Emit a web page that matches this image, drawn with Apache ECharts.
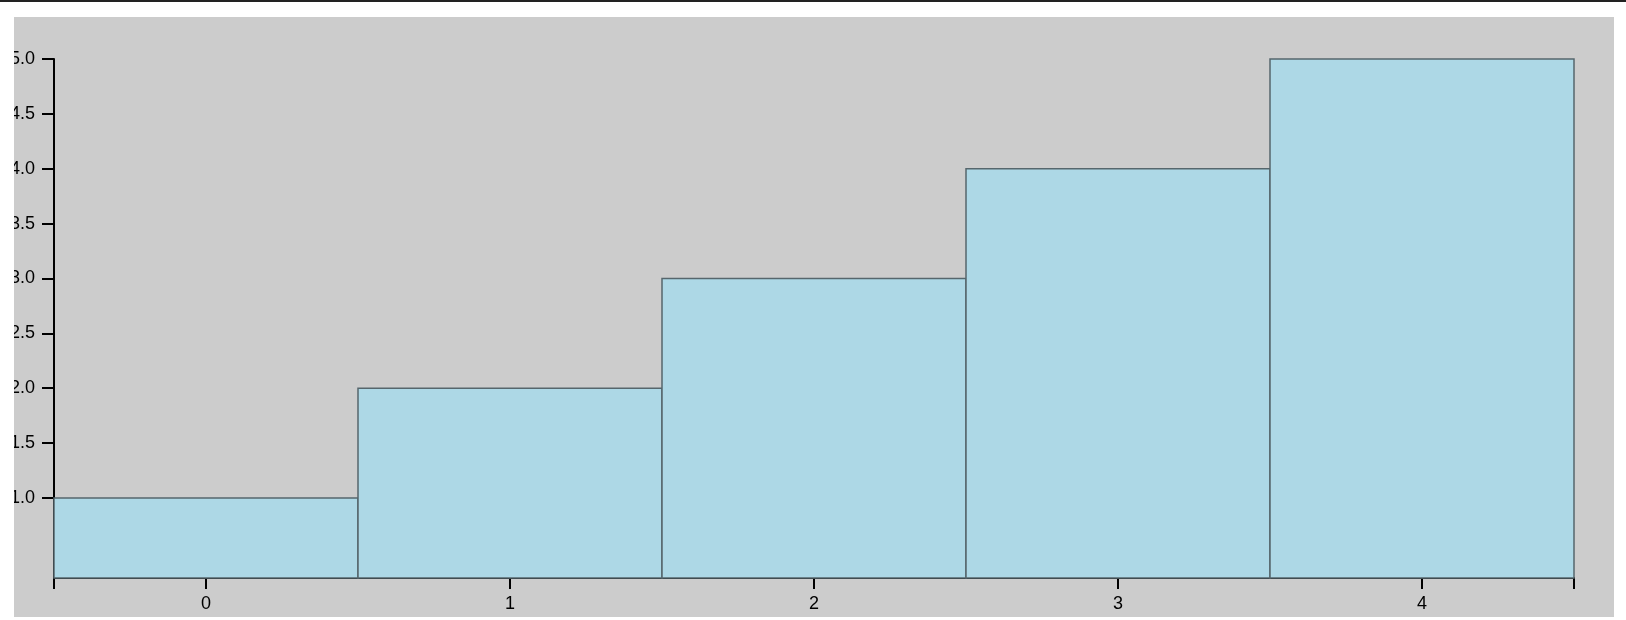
<html>
<head>
<meta charset="utf-8">
<title>bars</title>
<style>
  html, body { margin: 0; padding: 0; background: #fff; }
  #topbar { position: absolute; left: 0; top: 0; width: 1626px; height: 2px; background: #222; }
  #main { position: absolute; left: 14px; top: 17px; width: 1600px; height: 600px; background: #ccc; }
</style>
</head>
<body>
<div id="topbar"></div>
<div id="main"></div>
<script src="https://cdn.jsdelivr.net/npm/echarts@6/dist/echarts.min.js"></script>
<script>
var categories = [0, 1, 2, 3, 4];
var values = [1, 2, 3, 4, 5];
var yTicks = [1.0, 1.5, 2.0, 2.5, 3.0, 3.5, 4.0, 4.5, 5.0];
var xTicks = [-0.5, 0, 1, 2, 3, 4, 4.5];
var yMin = 0.27;

var chart = echarts.init(document.getElementById('main'), null, {renderer: 'canvas'});

var axisFont = {color: '#000', fontFamily: 'Liberation Sans, Arial, sans-serif', fontSize: 18};

var option = {
  animation: false,
  backgroundColor: '#ccc',
  grid: {left: 40, right: 40, top: 42, bottom: 39, containLabel: false, outerBoundsMode: 'none'},
  xAxis: {
    type: 'value',
    min: -0.5,
    max: 4.5,
    splitLine: {show: false},
    axisLine: {show: true, onZero: false, lineStyle: {color: '#000', width: 2}},
    axisTick: {show: true, length: 11, customValues: xTicks, lineStyle: {color: '#000', width: 2}},
    axisLabel: Object.assign({customValues: categories, margin: 17, formatter: function (v) { return String(v); }}, axisFont)
  },
  yAxis: {
    type: 'value',
    min: yMin,
    max: 5,
    splitLine: {show: false},
    axisLine: {show: true, onZero: false, lineStyle: {color: '#000', width: 2}},
    axisTick: {show: true, length: 12, customValues: yTicks, lineStyle: {color: '#000', width: 2}},
    axisLabel: Object.assign({customValues: yTicks, margin: 19, formatter: function (v) { return v.toFixed(1); }}, axisFont)
  },
  series: [{
    type: 'custom',
    data: categories.map(function (c, i) { return [c, values[i]]; }),
    renderItem: function (params, api) {
      var x = api.value(0), v = api.value(1);
      var p1 = api.coord([x - 0.5, v]);
      var p2 = api.coord([x + 0.5, yMin]);
      return {
        type: 'rect',
        shape: {x: p1[0], y: p1[1], width: p2[0] - p1[0], height: p2[1] - p1[1]},
        style: {fill: '#add8e6', stroke: '#56666c', lineWidth: 1.5}
      };
    }
  }]
};
chart.setOption(option);
</script>
</body>
</html>
